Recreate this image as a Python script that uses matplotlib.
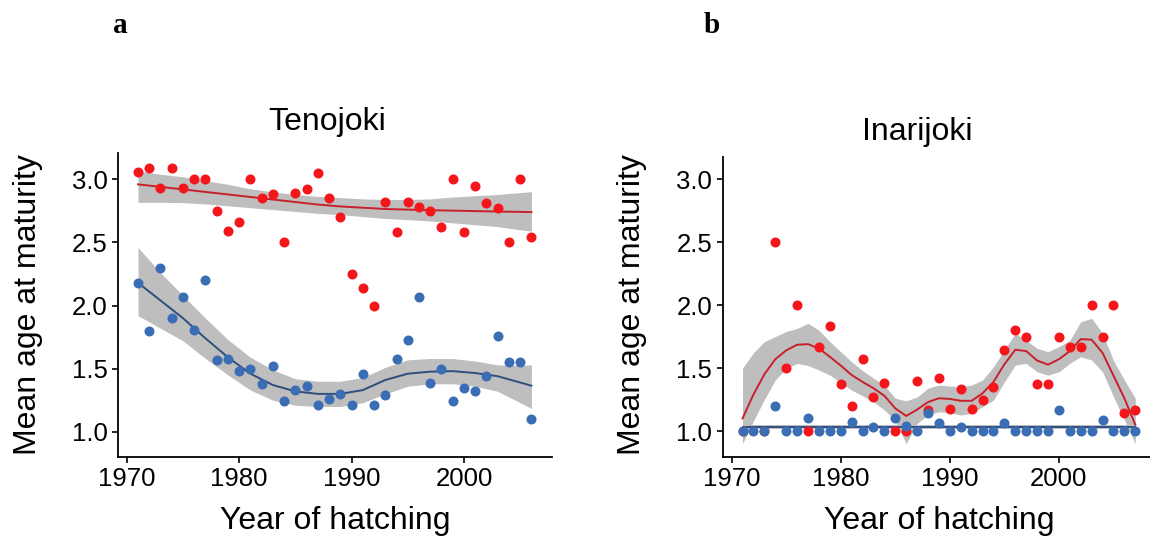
import numpy as np
import matplotlib
matplotlib.use("Agg")
import matplotlib.pyplot as plt

plt.rcParams["font.family"] = ["Liberation Sans", "DejaVu Sans"]

# ---- panel a: Tenojoki ----
teno_years = list(range(1971, 2007))
teno_red = [3.06, 3.09, 2.93, 3.09, 2.93, 3.00, 3.00, 2.75, 2.59, 2.665,
            3.00, 2.85, 2.88, 2.50, 2.89, 2.92, 3.05, 2.85, 2.70, 2.25,
            2.14, 2.00, 2.82, 2.58, 2.82, 2.78, 2.75, 2.62, 3.00, 2.58,
            2.95, 2.81, 2.77, 2.50, 3.00, 2.54]
teno_blue = [2.18, 1.80, 2.30, 1.90, 2.07, 1.81, 2.20, 1.57, 1.58, 1.48,
             1.50, 1.375, 1.52, 1.245, 1.33, 1.36, 1.21, 1.26, 1.30, 1.21,
             1.46, 1.21, 1.29, 1.58, 1.73, 2.07, 1.385, 1.50, 1.245, 1.345,
             1.32, 1.445, 1.76, 1.55, 1.55, 1.10]

# smoothed fits
teno_fit_years = [1971, 1973, 1975, 1977, 1979, 1981, 1983, 1985, 1987, 1989,
                  1991, 1993, 1995, 1997, 1999, 2001, 2003, 2005, 2006]
teno_red_fit = [2.96, 2.94, 2.92, 2.90, 2.88, 2.86, 2.84, 2.82, 2.80, 2.785,
                2.775, 2.765, 2.76, 2.755, 2.752, 2.748, 2.745, 2.742, 2.74]
teno_red_hi = [3.066, 3.04, 3.02, 2.99, 2.96, 2.925, 2.90, 2.88, 2.865, 2.855,
               2.845, 2.84, 2.84, 2.845, 2.86, 2.87, 2.88, 2.895, 2.902]
teno_red_lo = [2.818, 2.818, 2.815, 2.805, 2.79, 2.775, 2.76, 2.745, 2.73, 2.72,
               2.705, 2.69, 2.68, 2.67, 2.655, 2.64, 2.625, 2.60, 2.59]
teno_blue_fit = [2.18, 2.04, 1.90, 1.74, 1.59, 1.46, 1.37, 1.32, 1.30, 1.30,
                 1.33, 1.41, 1.46, 1.476, 1.48, 1.465, 1.44, 1.39, 1.365]
teno_blue_hi = [2.46, 2.26, 2.08, 1.90, 1.73, 1.59, 1.49, 1.42, 1.40, 1.40,
                1.43, 1.51, 1.57, 1.58, 1.58, 1.56, 1.53, 1.525, 1.53]
teno_blue_lo = [1.92, 1.82, 1.72, 1.58, 1.45, 1.33, 1.25, 1.21, 1.20, 1.20,
                1.23, 1.30, 1.36, 1.38, 1.38, 1.36, 1.32, 1.23, 1.185]

# ---- panel b: Inarijoki ----
inari_red_years = [1971, 1973, 1974, 1975, 1976, 1977, 1978, 1979, 1980, 1981,
                   1982, 1983, 1984, 1985, 1986, 1987, 1988, 1989, 1990, 1991,
                   1992, 1993, 1994, 1995, 1996, 1997, 1998, 1999, 2000, 2001,
                   2002, 2003, 2004, 2005, 2006, 2007]
inari_red = [1.0, 1.0, 2.50, 1.50, 2.00, 1.0, 1.67, 1.83, 1.375, 1.20,
             1.57, 1.27, 1.385, 1.0, 1.0, 1.40, 1.167, 1.425, 1.175, 1.33,
             1.175, 1.245, 1.35, 1.64, 1.80, 1.75, 1.375, 1.375, 1.75, 1.67,
             1.67, 2.00, 1.75, 2.00, 1.14, 1.165]
inari_blue_years = list(range(1971, 2008))
inari_blue = [1.0, 1.0, 1.0, 1.20, 1.0, 1.0, 1.10, 1.0, 1.0, 1.0,
              1.07, 1.0, 1.035, 1.0, 1.10, 1.04, 1.0, 1.145, 1.06, 1.0,
              1.035, 1.0, 1.0, 1.0, 1.06, 1.0, 1.0, 1.0, 1.0, 1.165,
              1.0, 1.0, 1.0, 1.09, 1.0, 1.0, 1.0]

inari_fit_years = list(range(1971, 2008))
inari_red_fit = [1.10, 1.29, 1.45, 1.57, 1.64, 1.685, 1.69, 1.655, 1.59, 1.52,
                 1.445, 1.39, 1.34, 1.28, 1.18, 1.12, 1.17, 1.23, 1.26, 1.255,
                 1.24, 1.24, 1.30, 1.39, 1.53, 1.645, 1.635, 1.56, 1.527, 1.57,
                 1.635, 1.73, 1.725, 1.62, 1.44, 1.26, 1.05]
inari_red_hi = [1.50, 1.62, 1.71, 1.75, 1.79, 1.815, 1.855, 1.80, 1.71, 1.63,
                1.55, 1.48, 1.42, 1.365, 1.26, 1.24, 1.27, 1.34, 1.365, 1.357,
                1.352, 1.365, 1.405, 1.51, 1.643, 1.775, 1.72, 1.656, 1.63, 1.67,
                1.72, 1.868, 1.894, 1.775, 1.56, 1.405, 1.26]
inari_red_lo = [0.90, 1.08, 1.25, 1.405, 1.497, 1.537, 1.52, 1.484, 1.444, 1.385,
                1.325, 1.28, 1.233, 1.167, 1.087, 0.90, 1.06, 1.127, 1.153, 1.146,
                1.127, 1.14, 1.193, 1.246, 1.39, 1.524, 1.537, 1.47, 1.444, 1.47,
                1.537, 1.59, 1.563, 1.47, 1.272, 1.087, 0.90]
inari_blue_fit_years = [1971, 2007]
inari_blue_fit = [1.03, 1.03]
inari_blue_hi = [1.045, 1.045]
inari_blue_lo = [1.015, 1.015]

RED_PT = "#F5161C"
BLUE_PT = "#3A6DB4"
RED_LN = "#C8202B"
BLUE_LN = "#2E4E7E"
RIBBON = "#BEBEBE"


def style_axes(ax):
    for side in ["top", "right"]:
        ax.spines[side].set_visible(False)
    for side in ["left", "bottom"]:
        ax.spines[side].set_linewidth(1.3)
    ax.tick_params(axis="both", labelsize=18.5, length=4.5, width=1.2,
                   pad=3, colors="black")
    ax.set_xticks([1970, 1980, 1990, 2000])
    ax.set_yticks([1.0, 1.5, 2.0, 2.5, 3.0])
    ax.set_yticklabels(["1.0", "1.5", "2.0", "2.5", "3.0"])
    ax.set_facecolor("white")


def draw_group(ax, fy, fit, lo, hi, px, py, ln_color, pt_color):
    ax.fill_between(fy, lo, hi, color=RIBBON, lw=0, zorder=1)
    ax.plot(fy, fit, color=ln_color, lw=1.4, zorder=2)
    ax.scatter(px, py, s=52, color=pt_color, lw=0, zorder=3)


fig = plt.figure(figsize=(11.5, 5.37), dpi=100)

ax_a = fig.add_axes([0.1029, 0.1490, 0.3768, 0.5655])
draw_group(ax_a, teno_fit_years, teno_red_fit, teno_red_lo, teno_red_hi,
           teno_years, teno_red, RED_LN, RED_PT)
draw_group(ax_a, teno_fit_years, teno_blue_fit, teno_blue_lo, teno_blue_hi,
           teno_years, teno_blue, BLUE_LN, BLUE_PT)
ax_a.set_xlim(1969.25, 2007.8)
ax_a.set_ylim(0.80, 3.206)
style_axes(ax_a)

ax_b = fig.add_axes([0.6284, 0.1490, 0.3759, 0.5590])
draw_group(ax_b, inari_fit_years, inari_red_fit, inari_red_lo, inari_red_hi,
           inari_red_years, inari_red, RED_LN, RED_PT)
draw_group(ax_b, inari_blue_fit_years, inari_blue_fit, inari_blue_lo,
           inari_blue_hi, inari_blue_years, inari_blue, BLUE_LN, BLUE_PT)
ax_b.set_xlim(1969.18, 2008.8)
ax_b.set_ylim(0.794, 3.177)
style_axes(ax_b)

W, H = 1150.0, 537.0
lab = dict(fontsize=23, color="black")
fig.text(28 / W, 1 - 305 / H, "Mean age at maturity", rotation=90,
         ha="center", va="center", **lab)
fig.text(632 / W, 1 - 305 / H, "Mean age at maturity", rotation=90,
         ha="center", va="center", **lab)
fig.text(335 / W, 1 - 529 / H, "Year of hatching", ha="center",
         va="baseline", **lab)
fig.text(939 / W, 1 - 529 / H, "Year of hatching", ha="center",
         va="baseline", **lab)
fig.text(327 / W, 1 - 130 / H, "Tenojoki", ha="center", va="baseline", **lab)
fig.text(917 / W, 1 - 140 / H, "Inarijoki", ha="center", va="baseline", **lab)

fig.text(120 / W, 1 - 33 / H, "a", ha="center", va="baseline",
         fontsize=21, fontweight="bold",
         family=["Liberation Serif", "DejaVu Serif"])
fig.text(712 / W, 1 - 33 / H, "b", ha="center", va="baseline",
         fontsize=21, fontweight="bold",
         family=["Liberation Serif", "DejaVu Serif"])

fig.savefig("out.png", dpi=100, facecolor="white")
